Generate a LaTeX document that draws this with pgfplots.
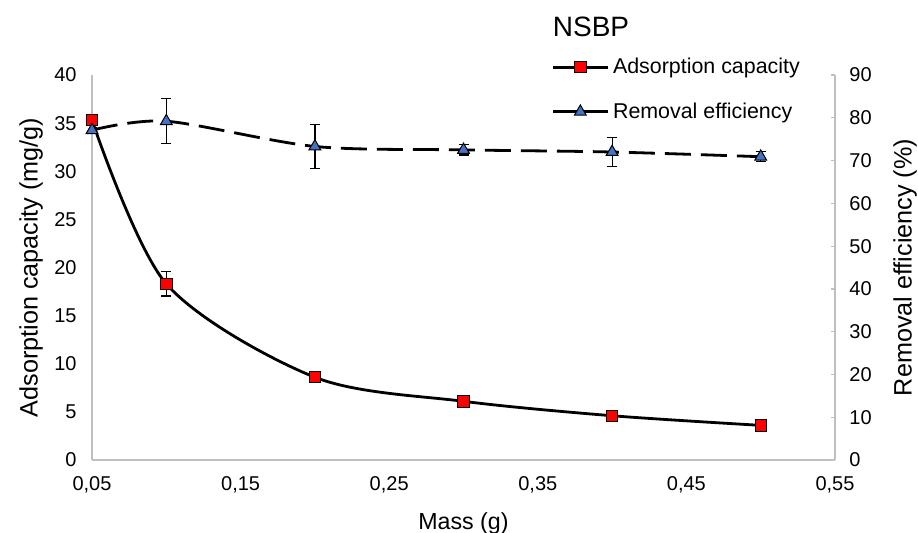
\documentclass[border=0pt]{standalone}
\usepackage{pgfplots}
\pgfplotsset{compat=1.18}
\usepackage{fontspec}
\setmainfont{Liberation Sans}
\definecolor{axgray}{HTML}{BFBFBF}
\definecolor{sqred}{HTML}{FF0000}
\definecolor{triblue}{HTML}{4472C4}

\pgfplotsset{
  twin/.style={
    scale only axis, width=371.5pt, height=192.5pt,
    xmin=0.05, xmax=0.55,
    xtick={0.05,0.15,0.25,0.35,0.45,0.55},
    tick label style={font=\fontsize{10}{12}\selectfont},
    /pgf/number format/assume math mode=true,
    axis line style={axgray, line width=0.8pt, -},
    major tick length=0pt,
  },
}

\begin{document}
\begin{tikzpicture}
  % left axis: adsorption capacity
  \begin{axis}[twin, name=ax,
    axis x line*=bottom, axis y line*=left,
    ymin=0, ymax=40, ytick={0,5,...,40},
    xticklabels={{0,05},{0,15},{0,25},{0,35},{0,45},{0,55}},
    xticklabel style={anchor=base, yshift=-15pt},
    yticklabel style={xshift=-4.2pt},
    xlabel={Mass (g)}, ylabel={Adsorption capacity (mg/g)},
    every axis x label/.style={at={(axis description cs:0.5,-0.165)}, anchor=center,
      font=\fontsize{11.6}{14}\selectfont},
    every axis y label/.style={at={(axis description cs:-0.0821,0.5)}, rotate=90,
      anchor=center, font=\fontsize{12.6}{15}\selectfont},
  ]
    \addplot[black, line width=1.4pt, smooth,
      mark=square*, mark size=2.85pt,
      mark options={solid, fill=sqred, draw=black, line width=0.5pt},
      error bars/.cd, y dir=both, y explicit,
      error bar style={black, line width=0.6pt},
      error mark options={rotate=90, mark size=2.5pt, black, line width=0.6pt}]
      coordinates {
        (0.05,35.3) +- (0,0.5)
        (0.10,18.3) +- (0,1.25)
        (0.20,8.6)  +- (0,0.4)
        (0.30,6.1)  +- (0,0.3)
        (0.40,4.6)  +- (0,0.3)
        (0.50,3.6)  +- (0,0.3)
      };
  \end{axis}
  % right axis: removal efficiency
  \begin{axis}[twin,
    axis x line=none, axis y line*=right,
    ymin=0, ymax=90, ytick={0,10,...,90},
    yticklabel style={xshift=3.7pt},
    major tick length=2pt, tick align=inside, tick style={axgray, line width=0.6pt},
    ylabel={Removal efficiency (\%)},
    every axis y label/.style={at={(axis description cs:1.0942,0.5)}, rotate=90,
      anchor=center, font=\fontsize{12.6}{15}\selectfont},
    title={NSBP},
    every axis title/.style={at={(axis description cs:0.6716,1)}, anchor=base,
      yshift=19.5pt, font=\fontsize{14}{16}\selectfont},
    legend style={at={(0.610,1.066)}, anchor=north west, draw=none, fill=none,
      font=\fontsize{10.7}{13}\selectfont, row sep=9pt, cells={anchor=west}},
    legend image code/.code={\draw[mark repeat=2,mark phase=2,#1]
      plot coordinates {(0cm,0cm) (0.48cm,0cm) (0.96cm,0cm)};},
  ]
    \addlegendimage{black, line width=1.4pt, mark=square*, mark size=2.85pt,
      mark options={solid, fill=sqred, draw=black, line width=0.5pt}}
    \addlegendentry{Adsorption capacity}
    \addlegendimage{black, line width=1.4pt, mark=triangle*, mark size=3.4pt,
      mark options={solid, fill=triblue, draw=black, line width=0.5pt}}
    \addlegendentry{Removal efficiency}
    \addplot[black, line width=1.4pt, smooth, dash pattern=on 13pt off 5pt,
      mark=triangle*, mark size=3.4pt,
      mark options={solid, fill=triblue, draw=black, line width=0.5pt},
      forget plot,
      error bars/.cd, y dir=both, y explicit,
      error bar style={solid, black, line width=0.6pt},
      error mark options={solid, rotate=90, mark size=2.5pt, black, line width=0.6pt}]
      coordinates {
        (0.05,77.1) +- (0,0.5)
        (0.10,79.2) +- (0,5.3)
        (0.20,73.3) +- (0,5.1)
        (0.30,72.5) +- (0,1.2)
        (0.40,72.0) +- (0,3.3)
        (0.50,70.9) +- (0,1.2)
      };
  \end{axis}
  % page size as in the reference (918 x 532 px at 2 px/pt)
  \pgfresetboundingbox
  \path ([shift={(-46pt,-36pt)}]ax.south west) rectangle ([shift={(41.5pt,37.5pt)}]ax.north east);
\end{tikzpicture}
\end{document}
